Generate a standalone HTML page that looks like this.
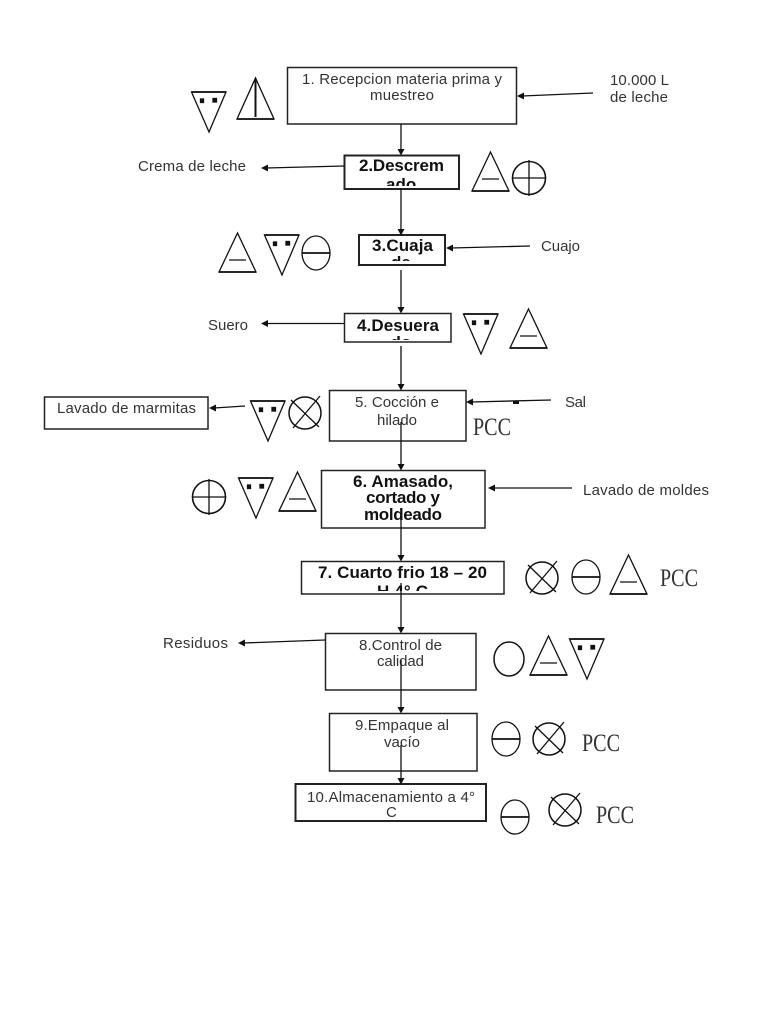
<!DOCTYPE html>
<html lang="es">
<head>
<meta charset="utf-8">
<title>Diagrama de flujo</title>
<style>
html,body{margin:0;padding:0;background:#fff;}
svg{display:block;}
text{font-family:"Liberation Sans",Arial,sans-serif;font-size:15px;fill:#333;}
text.b{font-weight:bold;font-size:17px;fill:#111;}
text.p{font-family:"Liberation Serif",serif;font-size:25px;fill:#333;}
.box{fill:#fff;stroke:#222;stroke-width:1.5;}
.l{stroke:#111;stroke-width:1.3;fill:none;}
.s{stroke:#111;stroke-width:1.3;fill:none;}
</style>
</head>
<body>
<svg width="768" height="1024" viewBox="0 0 768 1024" xmlns="http://www.w3.org/2000/svg">
<defs>
  <clipPath id="c2"><rect x="344" y="155" width="115" height="31"/></clipPath>
  <clipPath id="c3"><rect x="359" y="235" width="86" height="26"/></clipPath>
  <clipPath id="c4"><rect x="344" y="313" width="107" height="27"/></clipPath>
  <clipPath id="c7"><rect x="301" y="561" width="203" height="30"/></clipPath>
  <g id="inv" class="s">
    <path d="M0.5 1H35L18 41Z"/>
    <path d="M0.5 1H35" stroke-width="1.8"/>
    <rect x="9.5" y="8" width="3" height="3.5" fill="#111"/>
    <rect x="22" y="7.5" width="3.5" height="3.5" fill="#111"/>
  </g>
  <g id="tri" class="s">
    <path d="M0 39H37L18.5 0Z"/>
    <path d="M0 39H37" stroke-width="1.8"/>
    <path d="M10 27H27"/>
  </g>
  <g id="the" class="s">
    <ellipse cx="0" cy="0" rx="14" ry="17"/>
    <path d="M-14 0H14" stroke-width="1.8"/>
  </g>
  <g id="plu" class="s">
    <circle cx="0" cy="0" r="16.5" stroke-width="1.6"/>
    <path d="M-17 0H17M0 -18V18"/>
  </g>
  <g id="xxx" class="s">
    <circle cx="0" cy="0" r="16" stroke-width="1.5"/>
    <path d="M-14 -13L14 14M-12 15L15 -17"/>
  </g>
</defs>

<rect width="768" height="1024" fill="#fff"/>

<!-- boxes -->
<rect class="box" x="287.5" y="67.5" width="229" height="56.5"/>
<rect class="box" x="344.5" y="155.5" width="114.5" height="33.5" style="stroke-width:2"/>
<rect class="box" x="359" y="235" width="86" height="30" style="stroke-width:2"/>
<rect class="box" x="344.5" y="313.5" width="106.5" height="28.5"/>
<rect class="box" x="329.5" y="390.5" width="136.5" height="50.5"/>
<rect class="box" x="321.5" y="470.5" width="163.5" height="57.5"/>
<rect class="box" x="301.5" y="561.5" width="202.5" height="32.5"/>
<rect class="box" x="325.5" y="633.5" width="150.5" height="56.5"/>
<rect class="box" x="329.5" y="713.5" width="147.5" height="57.5"/>
<rect class="box" x="295.5" y="784" width="190.5" height="37" style="stroke-width:2"/>
<rect class="box" x="44.5" y="397" width="163.5" height="32"/>

<!-- box text -->
<text x="302" y="84" textLength="200">1. Recepcion materia prima y</text>
<text x="370" y="100" textLength="64">muestreo</text>
<text class="b" x="359" y="171" textLength="85">2.Descrem</text>
<text class="b" x="386" y="190" clip-path="url(#c2)">ado</text>
<text class="b" x="372" y="251" textLength="61">3.Cuaja</text>
<text class="b" x="391" y="268" clip-path="url(#c3)">de</text>
<text class="b" x="357" y="331" textLength="82">4.Desuera</text>
<text class="b" x="390.5" y="348" clip-path="url(#c4)">do</text>
<text x="355" y="407" textLength="84">5. Cocción e</text>
<text x="377" y="425" textLength="40">hilado</text>
<text class="b" x="353" y="487" textLength="100">6. Amasado,</text>
<text class="b" x="366" y="503" textLength="74">cortado y</text>
<text class="b" x="364" y="520" textLength="78">moldeado</text>
<text class="b" x="318" y="578" textLength="169">7. Cuarto frio 18 – 20</text>
<text class="b" x="377" y="597" textLength="51" clip-path="url(#c7)">H 4° C</text>
<text x="359" y="650" textLength="83">8.Control de</text>
<text x="377" y="666" textLength="47">calidad</text>
<text x="355" y="730" textLength="94">9.Empaque al</text>
<text x="384" y="747" textLength="36">vacío</text>
<text x="307" y="802" textLength="168">10.Almacenamiento a 4°</text>
<text x="386" y="817" textLength="10">C</text>
<text x="57" y="413" textLength="139">Lavado de marmitas</text>

<!-- side labels -->
<text x="610" y="85" textLength="59">10.000 L</text>
<text x="610" y="102" textLength="58">de leche</text>
<text x="138" y="171" textLength="108">Crema de leche</text>
<text x="541" y="251" textLength="39">Cuajo</text>
<text x="208" y="330" textLength="40">Suero</text>
<text x="565" y="407" textLength="21">Sal</text>
<text x="583" y="495" textLength="126">Lavado de moldes</text>
<text x="163" y="648" textLength="65">Residuos</text>

<!-- main connectors -->
<g class="l">
  <path d="M401 124V150"/>
  <path d="M401 189V230"/>
  <path d="M401 270V308"/>
  <path d="M401 346V385"/>
  <path d="M401 422V465"/>
  <path d="M401 513V556"/>
  <path d="M401 583V628"/>
  <path d="M401 660V708"/>
  <path d="M401 745V779"/>
  <path d="M593 93L522 96"/>
  <path d="M344 166L266 168"/>
  <path d="M530 246L451 248"/>
  <path d="M344 323.5H266"/>
  <path d="M245 406L214 408"/>
  <path d="M551 400L471 402"/>
  <path d="M572 488H493"/>
  <path d="M325 640L243 643"/>
</g>
<!-- arrowheads -->
<g fill="#111">
  <path d="M397.5 149H404.5L401 155.5Z"/>
  <path d="M397.5 229H404.5L401 235.5Z"/>
  <path d="M397.5 307H404.5L401 313.5Z"/>
  <path d="M397.5 384H404.5L401 390.5Z"/>
  <path d="M397.5 464H404.5L401 470.5Z"/>
  <path d="M397.5 555H404.5L401 561.5Z"/>
  <path d="M397.5 627H404.5L401 633.5Z"/>
  <path d="M397.5 707H404.5L401 713.5Z"/>
  <path d="M397.5 778H404.5L401 784.5Z"/>
  <path d="M517 96L524 92.5V99.5Z"/>
  <path d="M261 168L268 164.5V171.5Z"/>
  <path d="M446 248L453 244.5V251.5Z"/>
  <path d="M261 323.5L268 320V327Z"/>
  <path d="M209 408L216 404.5V411.5Z"/>
  <path d="M466 402L473 398.5V405.5Z"/>
  <path d="M488 488L495 484.5V491.5Z"/>
  <path d="M238 643L245 639.5V646.5Z"/>
  <rect x="513" y="401" width="6" height="3"/>
</g>

<!-- symbols -->
<use href="#inv" x="191" y="91"/>
<g class="s">
  <path d="M237 119H274L255.5 78Z"/>
  <path d="M237 119H274" stroke-width="1.8"/>
  <path d="M255.5 78V117" stroke-width="2"/>
</g>
<use href="#tri" x="472" y="152"/>
<use href="#plu" x="529" y="178"/>
<use href="#tri" x="219" y="233"/>
<use href="#inv" x="264" y="234"/>
<use href="#the" x="316" y="253"/>
<use href="#inv" x="463" y="313"/>
<use href="#tri" x="510" y="309"/>
<use href="#inv" x="250" y="400"/>
<use href="#xxx" x="305" y="413"/>
<use href="#plu" x="209" y="497"/>
<use href="#inv" x="238" y="477"/>
<use href="#tri" x="279" y="472"/>
<use href="#xxx" x="542" y="578"/>
<use href="#the" x="586" y="577"/>
<use href="#tri" x="610" y="555"/>
<g class="s"><ellipse cx="509" cy="659" rx="15" ry="17" stroke-width="1.5"/></g>
<use href="#tri" x="530" y="636"/>
<use href="#inv" x="569" y="638"/>
<use href="#the" x="506" y="739"/>
<use href="#xxx" x="549" y="739"/>
<use href="#the" x="515" y="817"/>
<use href="#xxx" x="565" y="810"/>

<!-- PCC -->
<text class="p" x="473" y="435" textLength="38" lengthAdjust="spacingAndGlyphs">PCC</text>
<text class="p" x="660" y="586" textLength="38" lengthAdjust="spacingAndGlyphs">PCC</text>
<text class="p" x="582" y="751" textLength="38" lengthAdjust="spacingAndGlyphs">PCC</text>
<text class="p" x="596" y="823" textLength="38" lengthAdjust="spacingAndGlyphs">PCC</text>
</svg>
</body>
</html>
